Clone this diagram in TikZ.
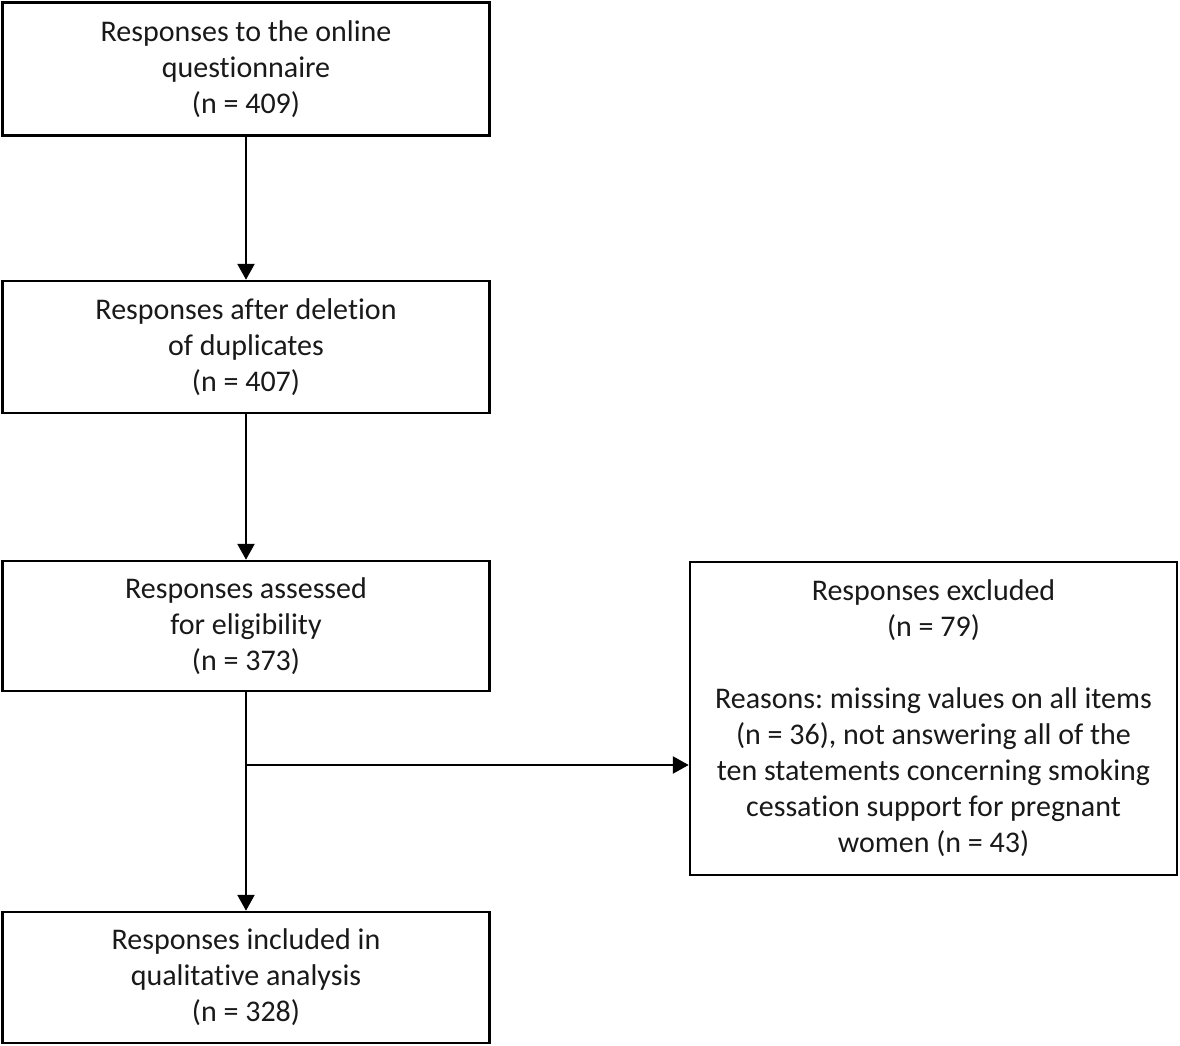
\documentclass[tikz,border=0pt]{standalone}
\usepackage{fontspec}
\setmainfont[Ligatures=NoCommon]{Carlito}
\usetikzlibrary{arrows.meta}
\frenchspacing
\begin{document}
\begin{tikzpicture}[x=1pt,y=-1pt,
  box/.style={draw=black,line width=2.5pt,minimum width=487pt,align=center,inner sep=0pt,
    font=\fontsize{30}{36}\selectfont,text=black!90},
  arr/.style={line width=2.5pt,-{Triangle[length=16pt,width=17pt]}}]
\useasboundingbox (0,0) rectangle (1180,1046);
\node[box,minimum height=133pt] (b1) at (246,69) {Responses to the online\\questionnaire\\(n = 409)};
\node[box,minimum height=132pt] (b2) at (246,347) {Responses after deletion\\of duplicates\\(n = 407)};
\node[box,minimum height=130pt] (b3) at (246,626) {Responses assessed\\for eligibility\\(n = 373)};
\node[box,minimum height=131pt] (b5) at (246,977.5) {Responses included in\\qualitative analysis\\(n = 328)};
\node[box,minimum height=313pt] (b4) at (933.5,718.5) {Responses excluded\\(n = 79)\\[36pt]Reasons: missing values on all items\\(n = 36), not answering all of the\\ten statements concerning smoking\\cessation support for pregnant\\women (n = 43)};
\coordinate (j) at (246,765);
\draw[arr] (b1) -- (b2);
\draw[arr] (b2) -- (b3);
\draw[arr] (b3) -- (b5);
\draw[arr] (j) -- (j -| b4.west);
\end{tikzpicture}
\end{document}
